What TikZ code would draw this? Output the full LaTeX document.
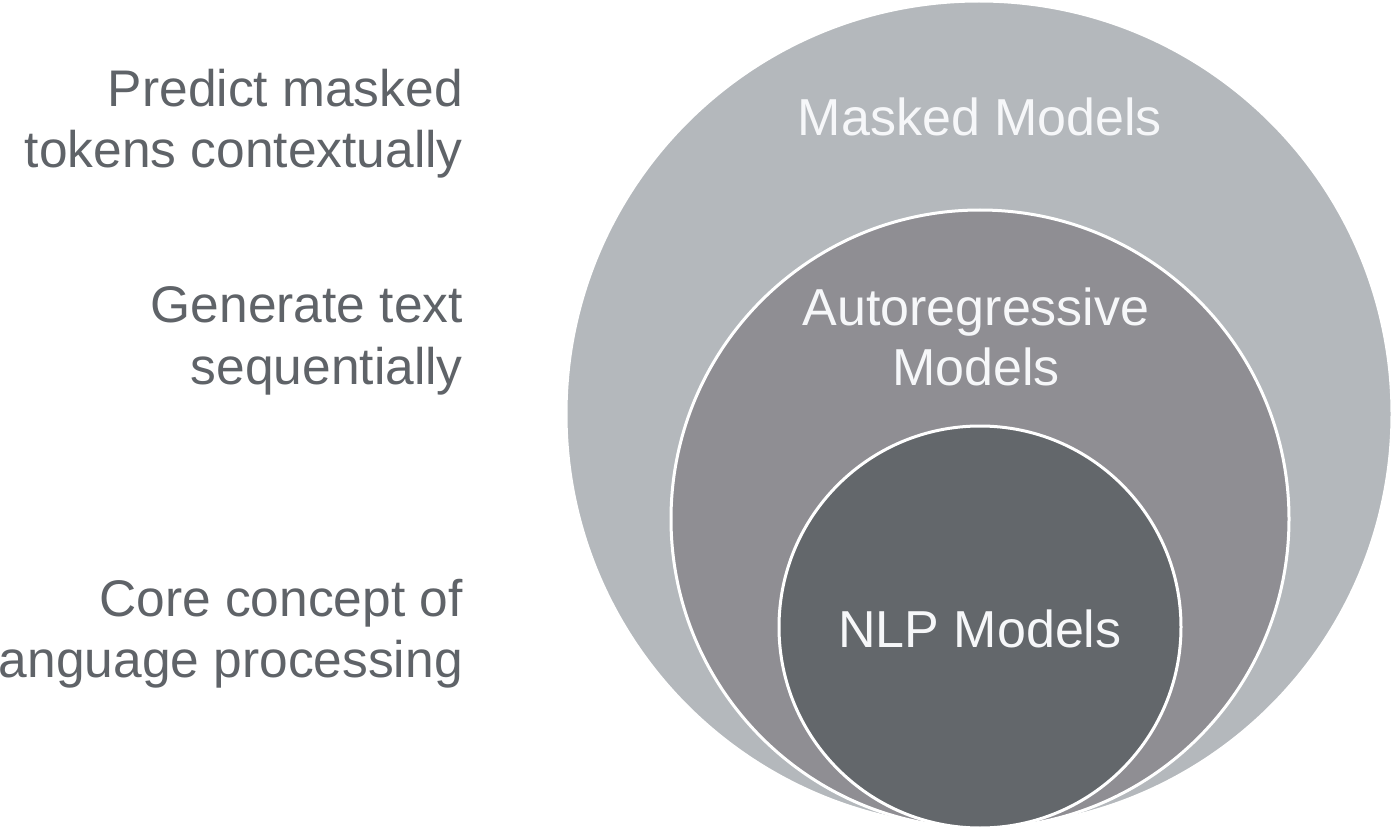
\documentclass[tikz,border=0pt]{standalone}
\usepackage{fontspec}
\setmainfont{Liberation Sans}
\definecolor{outerc}{HTML}{B4B8BC}
\definecolor{midc}{HTML}{8F8E93}
\definecolor{innerc}{HTML}{63676B}
\definecolor{sidetext}{HTML}{5F6368}
\definecolor{intext}{HTML}{F6F7F9}
\begin{document}
\begin{tikzpicture}[x=1pt,y=-1pt]
\useasboundingbox (0,0) rectangle (1393,829);
\clip (0,0) rectangle (1393,829);
\tikzset{
  ring/.style={draw=white, line width=3pt},
  side/.style={anchor=base east, inner sep=0pt, text=sidetext, font=\fontsize{51.5}{60}\selectfont},
  inlabel/.style={anchor=base, inner sep=0pt, text=intext, font=\fontsize{52}{60}\selectfont}
}
\fill[white] (0,0) rectangle (1393,829);
\path[ring, fill=outerc] (979,414) circle[radius=413];
\path[ring, fill=midc] (980,519) circle[radius=309];
\path[ring, fill=innerc] (980,627) circle[radius=201];
\node[inlabel] (masked) at (980,136) {Masked Models};
\node[inlabel] (auto1) at (976,325) {Autoregressive};
\node[inlabel] (auto2) at (976,385) {Models};
\node[inlabel] (nlp) at (980,647) {NLP Models};
\node[side] (p1) at (463,107) {Predict masked};
\node[side] (p2) at (463,168) {tokens contextually};
\node[side] (g1) at (463,323) {Generate text};
\node[side] (g2) at (463,384) {sequentially};
\node[side] (c1) at (463,616) {Core concept of};
\node[side] (c2) at (463,677) {language processing};
\end{tikzpicture}
\end{document}
